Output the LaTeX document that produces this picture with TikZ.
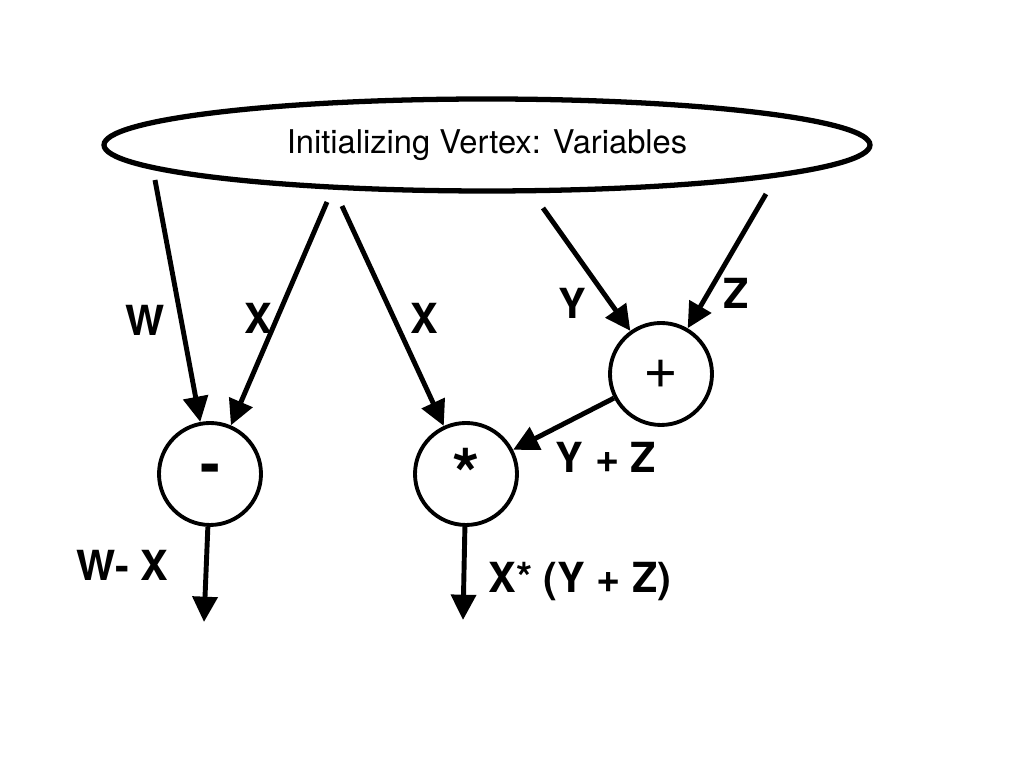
\documentclass[tikz,border=0pt]{standalone}
\usepackage{fontspec}
\setmainfont{TeX Gyre Heros}
\usetikzlibrary{positioning,arrows.meta,shapes.geometric}

\begin{document}
\begin{tikzpicture}[
	op/.style={draw,circle,line width=1.1pt,minimum size=1.02cm,inner sep=0pt},
	flow/.style={line width=1.4pt,-{Triangle[length=7.2pt,width=7pt]}},
	lbl/.style={font=\fontsize{11.8}{14}\selectfont\bfseries,inner sep=0pt}]
	\useasboundingbox (0,0) rectangle (10.24,7.68);
	\node[draw,ellipse,line width=1.5pt,minimum width=7.66cm,minimum height=0.92cm,inner sep=0pt,font=\fontsize{9.3}{11}\selectfont] (init) at (4.87,6.23) {Initializing Vertex: Variables};
	\node[op,font=\fontsize{17}{19}\selectfont\bfseries] (minus) at (2.10,2.94) {-};
	\node[op,font=\fontsize{20}{22}\selectfont\bfseries] (times) at (4.66,2.94) {*};
	\node[op,font=\fontsize{17}{19}\selectfont] (plus) at (6.61,3.94) {+};
	\coordinate (w-src) at (1.55,5.88);
	\coordinate (xl-src) at (3.27,5.66);
	\coordinate (xm-src) at (3.42,5.62);
	\coordinate (y-src) at (5.43,5.60);
	\coordinate (z-src) at (7.66,5.74);
	\coordinate (minus-out) at (2.04,1.46);
	\coordinate (times-out) at (4.63,1.48);
	\draw[flow] (w-src) -- (minus);
	\draw[flow] (xl-src) -- (minus);
	\draw[flow] (xm-src) -- (times);
	\draw[flow] (y-src) -- (plus);
	\draw[flow] (z-src) -- (plus);
	\draw[flow] (plus) -- (times);
	\draw[flow] (minus) -- (minus-out);
	\draw[flow] (times) -- (times-out);
	\node[lbl] (w-lbl) at (1.45,4.48) {W};
	\node[lbl] (xl-lbl) at (2.58,4.50) {X};
	\node[lbl] (xm-lbl) at (4.24,4.50) {X};
	\node[lbl] (y-lbl) at (5.72,4.65) {Y};
	\node[lbl] (z-lbl) at (7.36,4.75) {Z};
	\node[lbl] (yz-lbl) at (6.06,3.11) {Y + Z};
	\node[lbl] (wx-lbl) at (1.22,2.03) {W- X};
	\node[lbl] (res-lbl) at (5.80,1.86) {X* (Y + Z)};
\end{tikzpicture}
\end{document}
